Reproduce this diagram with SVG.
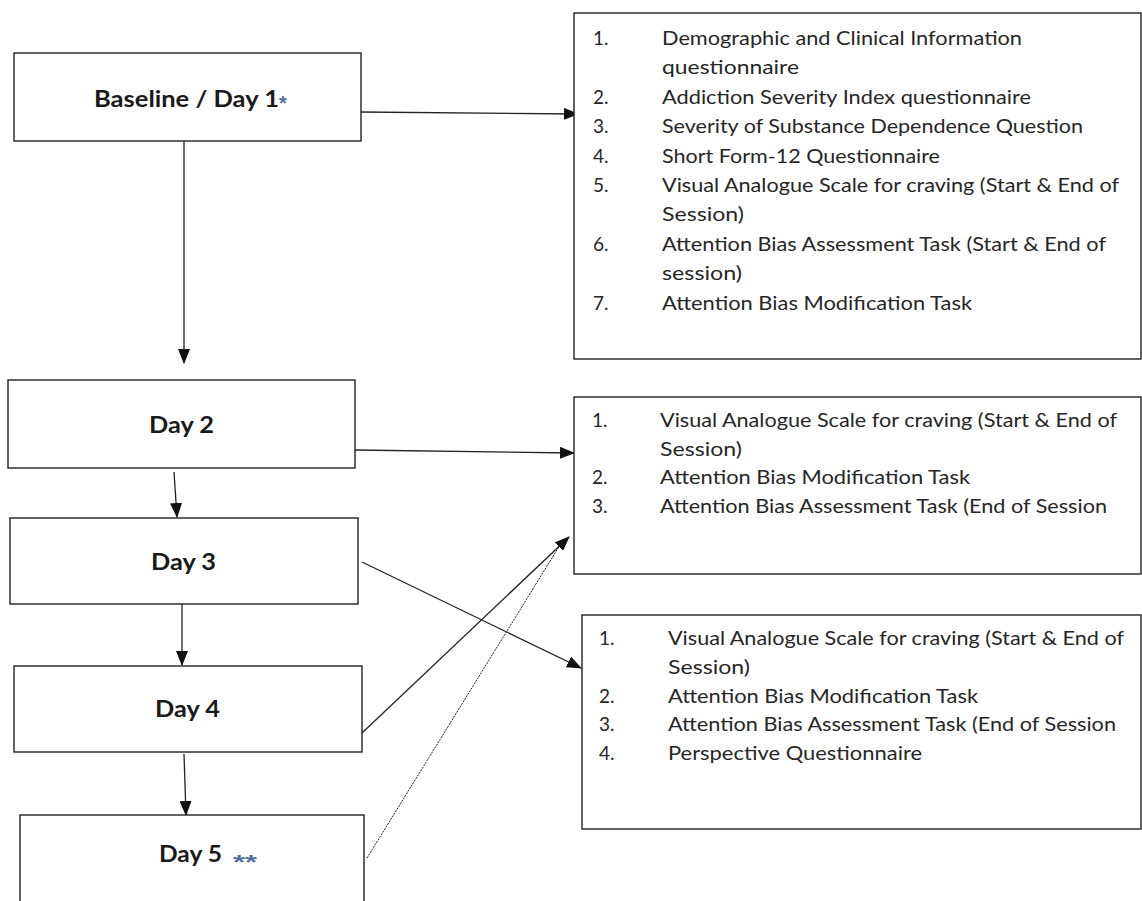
<svg xmlns="http://www.w3.org/2000/svg" width="1142" height="901" viewBox="0 0 1142 901">
<style>
.box{fill:#fff;stroke:#222;stroke-width:1.4}
.lbl{font-family:Lato,"Liberation Sans",sans-serif;font-weight:bold;font-size:22px;fill:#1a1a1a}
.ast{font-family:"Liberation Sans",Arial,sans-serif;font-weight:bold;font-size:20px;fill:#4f6f9f}
.li{font-family:Lato,"Liberation Sans",sans-serif;font-size:19px;fill:#262626}
.con{stroke:#222;stroke-width:1.3;fill:none}
.dot{stroke:#222;stroke-width:1;stroke-dasharray:2 1;fill:none}
</style>
<defs>
<marker id="ah" markerWidth="15" markerHeight="12" refX="14" refY="6" orient="auto" markerUnits="userSpaceOnUse">
<path d="M0,0 L15,6 L0,12 Z" fill="#111"/>
</marker>
</defs>
<rect width="1142" height="901" fill="#fff"/>
<g id="connectors">
<line class="con" x1="361" y1="112" x2="578" y2="114" marker-end="url(#ah)"/>
<line class="con" x1="184" y1="141" x2="184" y2="363" marker-end="url(#ah)"/>
<line class="con" x1="355" y1="450" x2="574" y2="453" marker-end="url(#ah)"/>
<line class="con" x1="174" y1="472" x2="177" y2="517" marker-end="url(#ah)"/>
<line class="con" x1="182" y1="598" x2="182" y2="665" marker-end="url(#ah)"/>
<line class="con" x1="184" y1="754" x2="186" y2="815" marker-end="url(#ah)"/>
<line class="con" x1="362" y1="562" x2="581" y2="668" marker-end="url(#ah)"/>
<line class="con" x1="362" y1="733" x2="569" y2="537" marker-end="url(#ah)"/>
<line class="dot" x1="367" y1="858" x2="560" y2="545"/>
</g>
<g id="baseline">
<rect class="box" x="14" y="53" width="347" height="88"/>
<text class="lbl" x="94" y="107" textLength="185" lengthAdjust="spacingAndGlyphs">Baseline / Day 1</text>
<text class="ast" x="279" y="110">*</text>
</g>
<g id="day2">
<rect class="box" x="8" y="380" width="347" height="88"/>
<text class="lbl" x="149" y="433" textLength="65" lengthAdjust="spacingAndGlyphs">Day 2</text>
</g>
<g id="day3">
<rect class="box" x="10" y="518" width="348" height="86"/>
<text class="lbl" x="151" y="570" textLength="65" lengthAdjust="spacingAndGlyphs">Day 3</text>
</g>
<g id="day4">
<rect class="box" x="14" y="666" width="348" height="86"/>
<text class="lbl" x="155" y="717" textLength="65" lengthAdjust="spacingAndGlyphs">Day 4</text>
</g>
<g id="day5">
<rect class="box" x="20" y="815" width="344" height="100"/>
<text class="lbl" x="159" y="862" textLength="63" lengthAdjust="spacingAndGlyphs">Day 5</text>
<text class="ast" x="233" y="869" textLength="24" lengthAdjust="spacingAndGlyphs">**</text>
</g>
<g id="day1-measures">
<rect class="box" x="574" y="13" width="567" height="346"/>
<text class="li" x="593" y="45">1.</text>
<text class="li" x="662" y="45" textLength="360" lengthAdjust="spacingAndGlyphs">Demographic and Clinical Information</text>
<text class="li" x="662" y="74.4" textLength="137" lengthAdjust="spacingAndGlyphs">questionnaire</text>
<text class="li" x="593" y="103.8">2.</text>
<text class="li" x="662" y="103.8" textLength="369" lengthAdjust="spacingAndGlyphs">Addiction Severity Index questionnaire</text>
<text class="li" x="593" y="133.2">3.</text>
<text class="li" x="662" y="133.2" textLength="421" lengthAdjust="spacingAndGlyphs">Severity of Substance Dependence Question</text>
<text class="li" x="593" y="162.6">4.</text>
<text class="li" x="662" y="162.6" textLength="278" lengthAdjust="spacingAndGlyphs">Short Form-12 Questionnaire</text>
<text class="li" x="593" y="192">5.</text>
<text class="li" x="662" y="192" textLength="457" lengthAdjust="spacingAndGlyphs">Visual Analogue Scale for craving (Start &amp; End of</text>
<text class="li" x="662" y="221.4" textLength="82" lengthAdjust="spacingAndGlyphs">Session)</text>
<text class="li" x="593" y="250.8">6.</text>
<text class="li" x="662" y="250.8" textLength="444" lengthAdjust="spacingAndGlyphs">Attention Bias Assessment Task (Start &amp; End of</text>
<text class="li" x="662" y="280.2" textLength="80" lengthAdjust="spacingAndGlyphs">session)</text>
<text class="li" x="593" y="309.6">7.</text>
<text class="li" x="662" y="309.6" textLength="310" lengthAdjust="spacingAndGlyphs">Attention Bias Modification Task</text>
</g>
<g id="day2-4-measures">
<rect class="box" x="574" y="397" width="567" height="177"/>
<text class="li" x="592" y="427">1.</text>
<text class="li" x="660" y="427" textLength="457" lengthAdjust="spacingAndGlyphs">Visual Analogue Scale for craving (Start &amp; End of</text>
<text class="li" x="660" y="455.7" textLength="82" lengthAdjust="spacingAndGlyphs">Session)</text>
<text class="li" x="592" y="484.4">2.</text>
<text class="li" x="660" y="484.4" textLength="310" lengthAdjust="spacingAndGlyphs">Attention Bias Modification Task</text>
<text class="li" x="592" y="513.1">3.</text>
<text class="li" x="660" y="513.1" textLength="447" lengthAdjust="spacingAndGlyphs">Attention Bias Assessment Task (End of Session</text>
</g>
<g id="day3-measures">
<rect class="box" x="582" y="615" width="559" height="214"/>
<text class="li" x="599" y="645">1.</text>
<text class="li" x="668" y="645" textLength="456" lengthAdjust="spacingAndGlyphs">Visual Analogue Scale for craving (Start &amp; End of</text>
<text class="li" x="668" y="673.8" textLength="82" lengthAdjust="spacingAndGlyphs">Session)</text>
<text class="li" x="599" y="702.6">2.</text>
<text class="li" x="668" y="702.6" textLength="310" lengthAdjust="spacingAndGlyphs">Attention Bias Modification Task</text>
<text class="li" x="599" y="731.4">3.</text>
<text class="li" x="668" y="731.4" textLength="448" lengthAdjust="spacingAndGlyphs">Attention Bias Assessment Task (End of Session</text>
<text class="li" x="599" y="760.2">4.</text>
<text class="li" x="668" y="760.2" textLength="254" lengthAdjust="spacingAndGlyphs">Perspective Questionnaire</text>
</g>
</svg>
